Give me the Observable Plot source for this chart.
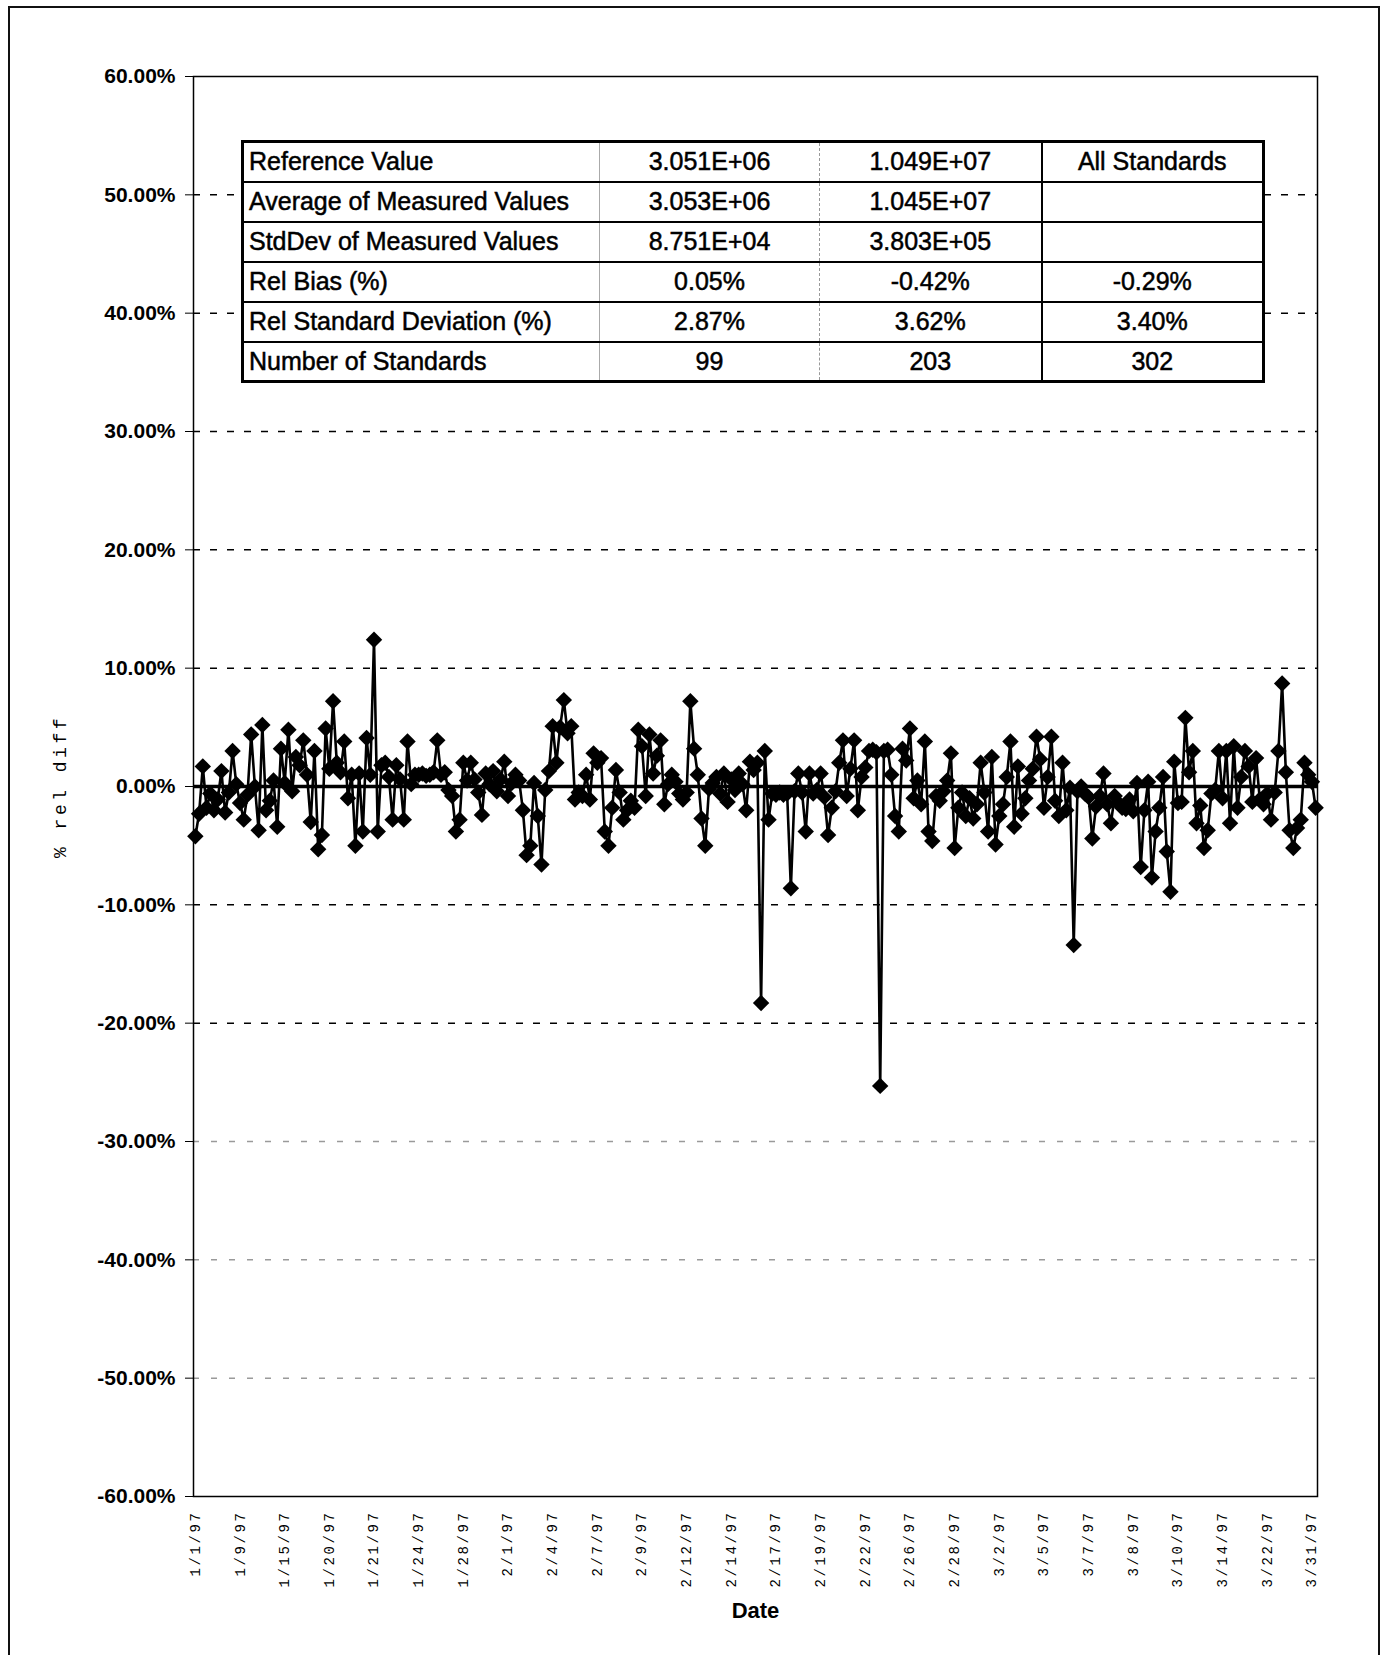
<!DOCTYPE html>
<html>
<head>
<meta charset="utf-8">
<script src="https://cdn.jsdelivr.net/npm/d3@7"></script>
<script src="https://cdn.jsdelivr.net/npm/@observablehq/plot@0.6"></script>
<style>
  html, body { margin: 0; padding: 0; background: #fff; }
  #page { position: relative; width: 1384px; height: 1655px; overflow: hidden; background: #fff;
          font-family: "Liberation Sans", Arial, sans-serif; color: #000; }
  #border { position: absolute; left: 8px; top: 6px; width: 1368px; height: 1700px; border: 2px solid #111; }
  #chart { position: absolute; left: 0; top: 0; }
  #stats { position: absolute; left: 241px; top: 140px; width: 1021px; table-layout: fixed;
           border-collapse: collapse; background: #fff; font-size: 25px; border: 3px solid #000;
           -webkit-text-stroke: 0.5px #000; }
  #stats tr { height: 40px; }
  #stats td { padding: 0 5px; border-top: 2px solid #000; border-bottom: 2px solid #000;
              border-left: none; border-right: none; text-align: center; white-space: nowrap; line-height: 1; }
  #stats td.c0 { text-align: left; }
  #stats td.c1 { border-left: 1px solid #aaa; }
  #stats tr:first-child td.c1 { border-left: 2px solid #000; }
  #stats td.c2 { border-left: 1px dashed #999; }
  #stats td.c3 { border-left: 2px solid #000; }
</style>
</head>
<body>
<div id="page">
  <div id="chart"></div>
  <table id="stats"></table>
  <div id="border"></div>
</div>
<script>
// ---- data ----
const relDiff = [
  -4.2, -2.3, 1.7, -1.8, -0.6, -2.0, -1.1, 1.3, -2.2, -0.5,
  3.0, 0.2, -1.4, -2.8, -0.7, 4.4, 0.0, -3.7, 5.2, -2.0,
  -1.2, 0.5, -3.4, 3.2, 0.3, 4.8, -0.4, 2.5, 1.8, 3.9,
  1.0, -3.0, 3.0, -5.3, -4.1, 4.9, 1.5, 7.2, 2.0, 1.2,
  3.8, -1.0, 1.0, -5.0, 1.1, -3.8, 4.1, 1.0, 12.4, -3.8,
  1.8, 2.0, 0.8, -2.8, 1.8, 0.6, -2.8, 3.8, 0.2, 1.0,
  1.0, 1.1, 0.9, 1.0, 1.2, 3.9, 1.0, 1.2, -0.3, -0.8,
  -3.8, -2.8, 2.0, 0.5, 2.0, 0.6, -0.5, -2.4, 1.1, 0.2,
  1.3, -0.4, 0.6, 2.1, -0.8, 0.3, 1.0, 0.5, -2.0, -5.8,
  -5.0, 0.3, -2.5, -6.6, -0.3, 1.3, 5.1, 2.0, 5.0, 7.3,
  4.5, 5.1, -1.1, -0.5, -0.8, 1.0, -1.1, 2.8, 2.0, 2.4,
  -3.8, -5.0, -1.8, 1.4, -0.5, -2.8, -2.0, -1.2, -1.8, 4.8,
  3.4, -0.8, 4.4, 1.1, 2.6, 3.9, -1.5, 0.2, 1.0, 0.4,
  -0.6, -1.1, -0.5, 7.2, 3.2, 1.0, -2.7, -5.0, -0.2, 0.3,
  0.8, -0.6, 1.1, -1.3, 0.6, -0.3, 1.1, 0.2, -2.0, 2.1,
  1.4, 2.0, -18.3, 3.0, -2.8, -0.6, -0.7, -0.5, -0.7, -0.6,
  -8.6, -0.4, 1.1, -0.5, -3.8, 1.1, -0.6, -0.3, 1.1, -0.9,
  -4.1, -1.8, -0.4, 2.0, 3.9, -0.8, 1.5, 3.9, -2.0, 0.8,
  1.6, 3.0, 3.1, 2.9, -25.3, 3.0, 3.1, 1.0, -2.5, -3.8,
  3.2, 2.2, 4.9, -1.0, 0.5, -1.5, 3.8, -3.8, -4.6, -0.8,
  -1.2, -0.4, 0.5, 2.8, -5.2, -1.8, -0.5, -2.5, -1.0, -2.7,
  -1.5, 2.0, -0.5, -3.8, 2.5, -4.9, -2.5, -1.5, 0.8, 3.8,
  -3.4, 1.7, -2.3, -1.0, 0.5, 1.5, 4.2, 2.3, -1.8, 0.8,
  4.2, -1.2, -2.5, 2.0, -2.0, -0.1, -13.4, -0.4, 0.0, -0.6,
  -0.9, -4.4, -1.7, -0.8, 1.1, -1.5, -3.1, -0.8, -1.4, -1.8,
  -1.9, -1.1, -2.1, 0.3, -6.8, -2.0, 0.4, -7.7, -3.8, -1.8,
  0.8, -5.5, -8.9, 2.1, -1.4, -1.3, 5.8, 1.2, 3.0, -3.1,
  -1.6, -5.2, -3.7, -0.6, -0.3, 3.0, -1.0, 3.0, -3.1, 3.4,
  -1.8, 0.8, 3.0, 1.7, -1.3, 2.4, -1.1, -1.5, -0.6, -2.8,
  -0.5, 3.0, 8.7, 1.2, -3.7, -5.2, -3.5, -2.8, 2.0, 1.0,
  0.4, -1.8
];

const dateLabels = ["1/1/97", "1/9/97", "1/15/97", "1/20/97", "1/21/97", "1/24/97", "1/28/97",
  "2/1/97", "2/4/97", "2/7/97", "2/9/97", "2/12/97", "2/14/97", "2/17/97", "2/19/97", "2/22/97",
  "2/26/97", "2/28/97", "3/2/97", "3/5/97", "3/7/97", "3/8/97", "3/10/97", "3/14/97", "3/22/97", "3/31/97"];
const labelEvery = 12;

const yTicks = [60, 50, 40, 30, 20, 10, 0, -10, -20, -30, -40, -50, -60];
const gridDark = [50, 40, 30, 20, 10, -10, -20];
const gridFaint = [-30, -40, -50];

const yTitle = "% rel diff";
const xTitle = "Date";

const rowLabels = ["Reference Value", "Average of Measured Values", "StdDev of Measured Values",
  "Rel Bias (%)", "Rel Standard Deviation (%)", "Number of Standards"];
const colLow = ["3.051E+06", "3.053E+06", "8.751E+04", "0.05%", "2.87%", "99"];
const colHigh = ["1.049E+07", "1.045E+07", "3.803E+05", "-0.42%", "3.62%", "203"];
const colAll = ["All Standards", "", "", "-0.29%", "3.40%", "302"];

// ---- chart ----
const pts = relDiff.map((v, i) => ({i, v}));
const mono = "'Liberation Mono', 'DejaVu Sans Mono', monospace";

const chart = Plot.plot({
  width: 1384,
  height: 1655,
  marginLeft: 193,
  marginRight: 67,
  marginTop: 76,
  marginBottom: 159,
  style: {background: "transparent", fontFamily: "'Liberation Sans', Arial, sans-serif", color: "#000", overflow: "visible"},
  x: {domain: [-0.5, relDiff.length - 0.5], axis: null, label: null},
  y: {domain: [-60, 60], axis: null, label: null},
  marks: [
    Plot.ruleY(gridDark, {stroke: "#000", strokeWidth: 1.5, strokeDasharray: "7,10"}),
    Plot.ruleY(gridFaint, {stroke: "#9a9a9a", strokeWidth: 1.5, strokeDasharray: "6,12"}),
    Plot.frame({stroke: "#000", strokeWidth: 1.5}),
    Plot.axisY({
      ticks: yTicks, tickSize: 8, tickPadding: 10, anchor: "left", label: null,
      tickFormat: d => d.toFixed(2) + "%", fontSize: 21, fontWeight: "bold"
    }),
    Plot.axisX({
      ticks: dateLabels.map((_, k) => k * labelEvery),
      tickFormat: i => dateLabels[Math.round(i / labelEvery)],
      tickRotate: -90, tickSize: 0, tickPadding: 14, anchor: "bottom", label: null,
      fontSize: 14, fontFamily: mono
    }),
    Plot.ruleY([0], {stroke: "#000", strokeWidth: 3.5}),
    Plot.line(pts, {x: "i", y: "v", stroke: "#000", strokeWidth: 2.6}),
    Plot.dot(pts, {x: "i", y: "v", symbol: "diamond2", r: 7.4, fill: "#000", stroke: "none"}),
    Plot.text([yTitle], {
      frameAnchor: "left", textAnchor: "middle", lineAnchor: "middle", dx: -133, rotate: -90,
      fontSize: 18, fontFamily: mono
    }),
    Plot.text([xTitle], {frameAnchor: "bottom", textAnchor: "middle", lineAnchor: "middle",
      dy: 114, fontSize: 22, fontWeight: "bold"})
  ]
});
document.getElementById("chart").appendChild(chart);
d3.select(chart).selectAll("text").each(function () {
  const t = this.textContent;
  if (t === yTitle) this.style.letterSpacing = "3.5px";
  else if (dateLabels.includes(t)) this.style.letterSpacing = "2.6px";
});

// ---- table ----
const table = d3.select("#stats");
const cg = table.append("colgroup");
[357, 220, 222, 222].forEach(w => cg.append("col").style("width", w + "px"));
rowLabels.forEach((lab, r) => {
  const tr = table.append("tr");
  [lab, colLow[r], colHigh[r], colAll[r]].forEach((t, c) => {
    tr.append("td").attr("class", "c" + c).text(t);
  });
});
</script>
</body>
</html>
